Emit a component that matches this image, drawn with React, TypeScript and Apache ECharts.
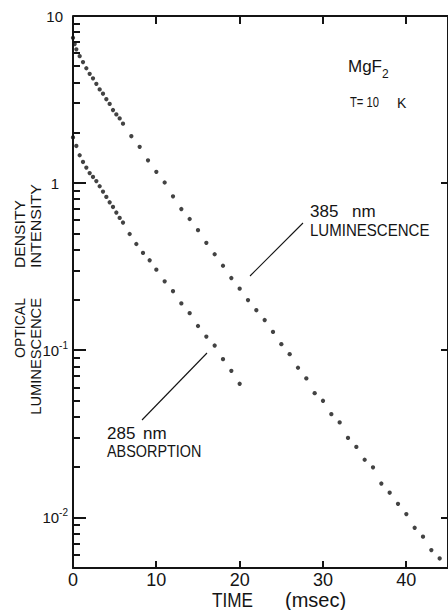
import React, { useEffect, useRef } from "react";
import * as echarts from "echarts";

// 385 nm luminescence decay (time in msec, relative intensity)
const lumTime = [
  0, 0.2, 0.4, 0.8, 1.2, 1.6, 2.0, 2.4, 2.8, 3.2, 3.6, 4.0, 4.4, 4.8, 5.2, 5.6, 6.0,
  7, 8, 9, 10, 11, 12, 13, 14, 15, 16, 17, 18, 19, 20, 21, 22, 23, 24, 25, 26,
  27, 28, 29, 30, 31, 32, 33, 34, 35, 36, 37, 38, 39, 40, 41, 42, 43, 44,
];
const lumValue = [
  7.41, 6.79, 6.32, 5.75, 5.3, 4.87, 4.51, 4.24, 3.93, 3.64, 3.43, 3.18, 2.98, 2.74, 2.58, 2.44, 2.27,
  1.91, 1.65, 1.37, 1.17, 1.01, 0.835, 0.701, 0.611, 0.524, 0.44, 0.376, 0.321, 0.271, 0.234, 0.2,
  0.174, 0.152, 0.129, 0.109, 0.095, 0.0788, 0.068, 0.0555, 0.05, 0.0416, 0.0371, 0.03, 0.0265,
  0.0222, 0.02, 0.016, 0.0141, 0.0121, 0.0105, 0.0087, 0.0077, 0.0064, 0.0057,
];

// 285 nm optical absorption decay
const absTime = [
  0, 0.4, 0.8, 1.2, 1.6, 2.0, 2.4, 2.8, 3.2, 3.6, 4.0, 4.4, 4.8, 5.2, 5.6, 6.0,
  6.8, 7.6, 8.4, 9.2, 10, 11, 12, 13, 14, 15, 16, 17, 18, 19, 20,
];
const absValue = [
  1.88, 1.67, 1.47, 1.34, 1.24, 1.15, 1.09, 1.03, 0.959, 0.891, 0.828, 0.769, 0.721, 0.668, 0.62, 0.582,
  0.497, 0.433, 0.383, 0.346, 0.304, 0.259, 0.226, 0.191, 0.167, 0.14, 0.121, 0.107, 0.0887, 0.0755, 0.0632,
];

// axis ranges and tick positions
const timeRange = [0, 45];
const timeStep = 10;
const yRange = [0.005, 10];
const decadeTicks = [0.01, 0.1, 1];
const minorMultipliers = [2, 3, 4, 5, 6, 7, 8, 9];
const decades = [0.001, 0.01, 0.1, 1];

const INK = "#141414";
const FONT = "'Liberation Sans', Arial, Helvetica, sans-serif";
const GRID = { left: 73, top: 16, width: 378, height: 552 };
const FRAME_W = 2;
const TICK_W = 2;

function decadeLabel(v: number) {
  const lg = Math.log10(v);
  const e = Math.round(lg);
  if (Math.abs(lg - e) > 1e-6) return "";
  if (e === 1) return "{a|10}";
  if (e === 0) return "{b|1}";
  return "{n|10}{s|" + e + "}";
}

function txt(
  text: string,
  x: number,
  y: number,
  fontSize: number,
  extra: Record<string, unknown> = {},
  align = "left",
  vAlign = "top"
) {
  return {
    type: "text",
    x,
    y,
    silent: true,
    ...extra,
    style: { text, fontSize, fontFamily: FONT, fill: INK, align, verticalAlign: vAlign },
  };
}

function seg(x1: number, y1: number, x2: number, y2: number, w = TICK_W) {
  return {
    type: "line",
    silent: true,
    shape: { x1, y1, x2, y2 },
    style: { stroke: INK, lineWidth: w },
  };
}

// crisp, pixel-aligned segment for 2px strokes
function crisp(x1: number, y1: number, x2: number, y2: number, w = TICK_W) {
  return seg(Math.round(x1), Math.round(y1), Math.round(x2), Math.round(y2), w);
}

const labels = [
  // y axis title, two rotated lines
  txt("OPTICAL", 20, 298, 14, { rotation: Math.PI / 2 }, "right", "middle"),
  txt("DENSITY", 20, 268, 14, { rotation: Math.PI / 2, scaleX: 1.12 }, "left", "middle"),
  txt("LUMINESCENCE", 36, 298, 14, { rotation: Math.PI / 2, scaleX: 1.05 }, "right", "middle"),
  txt("INTENSITY", 36, 268, 14, { rotation: Math.PI / 2, scaleX: 1.15 }, "left", "middle"),
  // x axis title
  txt("TIME", 212, 590, 20, { scaleX: 0.86 }),
  txt("(msec)", 285, 590, 20),
  // sample and temperature
  txt("MgF", 348, 58, 17),
  txt("2", 382, 68, 12),
  txt("T= 10", 350, 96, 14, { scaleX: 0.8 }),
  txt("K", 397, 96, 14),
  // series annotations
  txt("385", 310, 203, 17),
  txt("nm", 352, 203, 17),
  txt("LUMINESCENCE", 310, 222, 16, { scaleX: 0.94 }),
  txt("285", 107, 425, 17),
  txt("nm", 143, 425, 17),
  txt("ABSORPTION", 107, 443, 16, { scaleX: 0.9 }),
  seg(250, 276, 303, 223, 1.1),
  seg(142, 420, 207, 353, 1.1),
];

export default function App() {
  const ref = useRef<HTMLDivElement>(null);

  useEffect(() => {
    if (!ref.current) return;
    const chart = echarts.init(ref.current, null, { renderer: "svg" });
    const lineStyle = { color: INK, width: FRAME_W };

    chart.setOption({
      animation: false,
      backgroundColor: "#ffffff",
      grid: { ...GRID },
      xAxis: {
        type: "value",
        position: "bottom",
        min: timeRange[0],
        max: timeRange[1],
        interval: timeStep,
        axisLine: { show: true, onZero: false, lineStyle },
        axisTick: { show: false },
        axisLabel: {
          show: true,
          color: INK,
          fontFamily: FONT,
          fontSize: 18,
          margin: 3,
          showMaxLabel: false,
          formatter: (v: number) => (v % timeStep === 0 ? String(v) : ""),
        },
        splitLine: { show: false },
      },
      yAxis: {
        type: "log",
        logBase: 10,
        position: "left",
        min: yRange[0],
        max: yRange[1],
        axisLine: { show: true, onZero: false, lineStyle },
        axisTick: { show: false },
        axisLabel: {
          show: true,
          margin: 5,
          formatter: decadeLabel,
          rich: {
            a: { fontSize: 15, lineHeight: 20, fontFamily: FONT, color: INK, padding: [0, 5, 0, 0] },
            b: { fontSize: 15, lineHeight: 20, fontFamily: FONT, color: INK, padding: [0, 9, 0, 0] },
            n: { fontSize: 15, lineHeight: 20, fontFamily: FONT, color: INK },
            s: { fontSize: 10, lineHeight: 10, verticalAlign: "top", fontFamily: FONT, color: INK },
          },
        },
        splitLine: { show: false },
      },
      series: [
        {
          name: "385 nm luminescence",
          type: "scatter",
          symbol: "circle",
          symbolSize: 4.3,
          itemStyle: { color: INK },
          data: lumTime.map((t, i) => [t, lumValue[i]]),
        },
        {
          name: "285 nm absorption",
          type: "scatter",
          symbol: "circle",
          symbolSize: 4.3,
          itemStyle: { color: INK },
          data: absTime.map((t, i) => [t, absValue[i]]),
        },
      ],
    } as any);

    // frame and inward ticks, placed through the chart's own scales
    const px = (x: number, y: number) =>
      chart.convertToPixel({ xAxisIndex: 0, yAxisIndex: 0 }, [x, y]) as number[];
    const frame: any[] = [];
    const tl = px(timeRange[0], yRange[1]);
    const tr = px(timeRange[1], yRange[1]);
    const br = px(timeRange[1], yRange[0]);
    frame.push(crisp(tl[0], tl[1], tr[0], tr[1], FRAME_W));
    frame.push(crisp(tr[0], tr[1], br[0], br[1], FRAME_W));
    decades.forEach((d) =>
      minorMultipliers.forEach((m) => {
        const v = +(d * m).toPrecision(3);
        if (v >= yRange[0] - 1e-12 && v < yRange[1]) {
          const p = px(timeRange[0], v);
          frame.push(crisp(p[0], p[1], p[0] + 7, p[1]));
        }
      })
    );
    decadeTicks.forEach((v) => {
      const p = px(timeRange[0], v);
      frame.push(crisp(p[0], p[1], p[0] + 13, p[1]));
      const q = px(timeRange[1], v);
      frame.push(crisp(q[0], q[1], q[0] - 7, q[1]));
    });
    for (let t = timeRange[0] + timeStep; t < timeRange[1]; t += timeStep) {
      const b = px(t, yRange[0]);
      frame.push(crisp(b[0], b[1], b[0], b[1] - 7));
      const u = px(t, yRange[1]);
      frame.push(crisp(u[0], u[1], u[0], u[1] + 8));
    }
    chart.setOption({ graphic: [...labels, ...frame] } as any);

    return () => chart.dispose();
  }, []);

  return (
    <div
      ref={ref}
      style={{ position: "fixed", left: 0, top: 0, width: 448, height: 610, background: "#fff" }}
    />
  );
}
